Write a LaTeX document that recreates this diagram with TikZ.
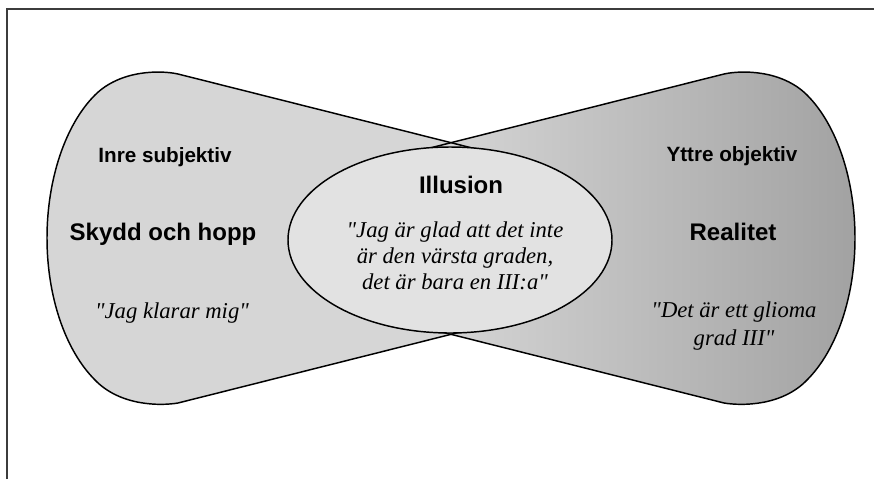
\documentclass[tikz,border=0pt]{standalone}
\usepackage{fontspec}
\setmainfont{Liberation Serif}
\newfontfamily\arialfont{Liberation Sans}
\definecolor{lobeL}{RGB}{214,214,214}
\definecolor{lobeRa}{RGB}{218,218,218}
\definecolor{lobeRb}{RGB}{162,162,162}
\definecolor{ellfill}{RGB}{226,226,226}
\definecolor{framecol}{RGB}{60,60,60}
\newcommand{\qq}{\textquotedbl}
\begin{document}
\begin{tikzpicture}[x=0.75pt,y=-0.75pt,
  outline/.style={draw=black,line width=1.1pt,line join=round},
  headtxt/.style={inner sep=0pt,font=\arialfont\bfseries\fontsize{15.5}{18}\selectfont},
  titletxt/.style={inner sep=0pt,font=\arialfont\bfseries\fontsize{18}{21}\selectfont},
  quotetxt/.style={inner sep=0pt,align=center,font=\itshape\fontsize{17}{19.5}\selectfont},
  framestyle/.style={draw=framecol,line width=1pt}]
\useasboundingbox (0,0) rectangle (874,479);
% frame
\coordinate (fbl) at (7,479);
\coordinate (ftl) at (7,9);
\coordinate (ftr) at (874,9);
\draw[framestyle] (fbl) -- (ftl) -- (ftr);
% left lobe
\fill[lobeL] (500,155) -- (178,74) .. controls (160,70) and (120,70) .. (95,95)
  .. controls (65,125) and (47,180) .. (47,238)
  .. controls (47,296) and (65,350) .. (95,380)
  .. controls (120,406) and (160,406) .. (178,403) -- (500,322) -- cycle;
% right lobe
\shade[left color=lobeRa,right color=lobeRb] (402,155) -- (724,74) .. controls (742,70) and (782,70) .. (807,95)
  .. controls (837,125) and (855,180) .. (855,238)
  .. controls (855,296) and (837,350) .. (807,380)
  .. controls (782,406) and (742,406) .. (724,403) -- (402,322) -- cycle;
% outlines
\draw[outline] (500,155) -- (178,74) .. controls (160,70) and (120,70) .. (95,95)
  .. controls (65,125) and (47,180) .. (47,238)
  .. controls (47,296) and (65,350) .. (95,380)
  .. controls (120,406) and (160,406) .. (178,403) -- (500,322);
\draw[outline] (402,155) -- (724,74) .. controls (742,70) and (782,70) .. (807,95)
  .. controls (837,125) and (855,180) .. (855,238)
  .. controls (855,296) and (837,350) .. (807,380)
  .. controls (782,406) and (742,406) .. (724,403) -- (402,322);
% central ellipse
\path[outline,fill=ellfill] (450,240) ellipse [x radius=162, y radius=93];
% texts
\node[headtxt] (inre) at (165,157) {Inre subjektiv};
\node[titletxt] (skydd) at (163,234) {Skydd och hopp};
\node[quotetxt] (jag) at (172,313) {\qq Jag klarar mig\qq};
\node[titletxt] (illusion) at (461,185) {Illusion};
\node[quotetxt] (glad) at (455,256) {\qq Jag är glad att det inte\\är den värsta graden,\\det är bara en III:a\qq};
\node[headtxt] (yttre) at (732,156) {Yttre objektiv};
\node[titletxt] (realitet) at (733,232) {Realitet};
\node[quotetxt,font=\itshape\fontsize{17}{21}\selectfont] (glioma) at (734,326) {\qq Det är ett glioma\\grad III\qq};
\end{tikzpicture}
\end{document}
